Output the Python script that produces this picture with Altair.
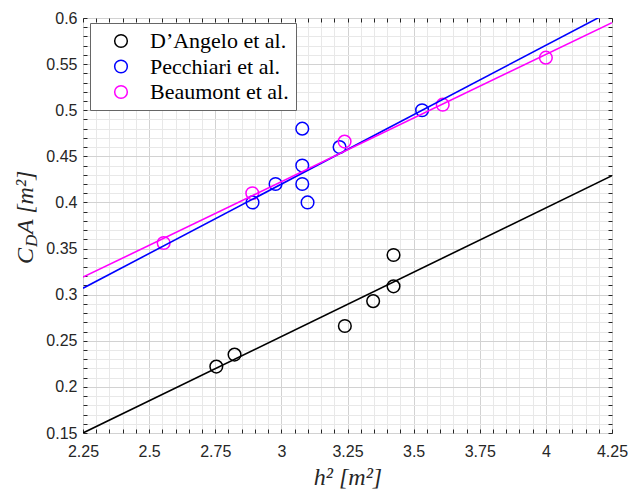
import altair as alt
import pandas as pd

series_names = ["D’Angelo et al.", "Pecchiari et al.", "Beaumont et al."]
series_colors = ["#000000", "#0000ff", "#ff00ff"]

dangelo_x = [2.754, 2.823, 3.240, 3.347, 3.424, 3.424]
dangelo_y = [0.222, 0.235, 0.266, 0.293, 0.309, 0.343]
pecchiari_x = [2.891, 2.978, 3.079, 3.079, 3.079, 3.099, 3.220, 3.532]
pecchiari_y = [0.400, 0.420, 0.480, 0.440, 0.420, 0.400, 0.460, 0.500]
beaumont_x = [2.555, 2.890, 3.239, 3.610, 4.000]
beaumont_y = [0.356, 0.410, 0.466, 0.506, 0.557]

fit_x = [2.25, 4.25]
dangelo_fit = [0.150, 0.429]
pecchiari_fit = [0.307, 0.608]
beaumont_fit = [0.319, 0.595]

x_ticks = [round(2.25 + 0.05 * i, 2) for i in range(41)]
y_ticks = [round(0.15 + 0.01 * i, 2) for i in range(46)]

pts = pd.concat([
    pd.DataFrame({"x": dangelo_x, "y": dangelo_y, "series": series_names[0]}),
    pd.DataFrame({"x": pecchiari_x, "y": pecchiari_y, "series": series_names[1]}),
    pd.DataFrame({"x": beaumont_x, "y": beaumont_y, "series": series_names[2]}),
], ignore_index=True)

fits = pd.concat([
    pd.DataFrame({"x": fit_x, "y": dangelo_fit, "series": series_names[0]}),
    pd.DataFrame({"x": fit_x, "y": pecchiari_fit, "series": series_names[1]}),
    pd.DataFrame({"x": fit_x, "y": beaumont_fit, "series": series_names[2]}),
], ignore_index=True)

TICK = 4
AX = "#262626"
xscale = alt.Scale(domain=[2.25, 4.25], nice=False, zero=False)
yscale = alt.Scale(domain=[0.15, 0.6], nice=False, zero=False)

x_major = "abs(datum.value*4 - round(datum.value*4)) < 0.001"
y_major = "abs(datum.value*20 - round(datum.value*20)) < 0.001"

x_axis = alt.Axis(
    values=x_ticks, orient="bottom", grid=True,
    gridColor={"condition": {"test": x_major, "value": "#d2d2d2"}, "value": "#e8e8e8"},
    gridWidth=1, domain=False, ticks=True, tickSize=TICK, tickColor=AX, tickWidth=1,
    offset=-TICK, labelExpr=f"{x_major} ? format(datum.value, '~g') : ''",
    labelFont="Liberation Sans", labelFontSize=16, labelColor=AX, labelPadding=10,
    labelOverlap=False, labelFlush=False,
    title="h² [m²]", titleFont="Liberation Serif", titleFontStyle="italic",
    titleFontWeight="normal", titleFontSize=24, titleColor=AX,
    titleBaseline="alphabetic", titleY=55,
)
y_axis = alt.Axis(
    values=y_ticks, orient="left", grid=True,
    gridColor={"condition": {"test": y_major, "value": "#d2d2d2"}, "value": "#e8e8e8"},
    gridWidth=1, domain=False, ticks=True, tickSize=TICK, tickColor=AX, tickWidth=1,
    offset=-TICK, labelExpr=f"{y_major} ? format(datum.value, '~g') : ''",
    labelFont="Liberation Sans", labelFontSize=16, labelColor=AX, labelPadding=6,
    labelOverlap=False, labelFlush=False, title=None,
)
x_axis_top = alt.Axis(values=x_ticks, orient="top", grid=False, domain=False, labels=False,
                      tickSize=TICK, tickColor=AX, tickWidth=1, offset=-TICK, title=None)
y_axis_right = alt.Axis(values=y_ticks, orient="right", grid=False, domain=False, labels=False,
                        tickSize=TICK, tickColor=AX, tickWidth=1, offset=-TICK, title=None)

color_scale = alt.Scale(domain=series_names, range=series_colors)

points = alt.Chart(pts).mark_point(shape="circle", filled=False, size=160, strokeWidth=1.5, opacity=1).encode(
    x=alt.X("x:Q", scale=xscale, axis=x_axis),
    y=alt.Y("y:Q", scale=yscale, axis=y_axis),
    color=alt.Color("series:N", scale=color_scale, sort=series_names, legend=alt.Legend(
        orient="none", legendX=7, legendY=5, title=None, direction="vertical",
        fillColor="white", strokeColor="#666666", padding=7, symbolOffset=13,
        labelOffset=18, rowPadding=3.5, symbolType="circle", symbolSize=160,
        symbolStrokeWidth=1.5, labelFont="Liberation Serif", labelFontSize=22,
        labelColor="#000000", labelLimit=400,
    )),
)

lines = alt.Chart(fits).mark_line(clip=True, strokeWidth=1.6).encode(
    x=alt.X("x:Q", scale=xscale, axis=x_axis_top),
    y=alt.Y("y:Q", scale=yscale, axis=y_axis_right),
    color=alt.Color("series:N", scale=color_scale, sort=series_names, legend=None),
    detail="series:N",
)

def ytext(txt, px, py, size):
    return alt.Chart(pd.DataFrame({"t": [txt]})).mark_text(
        angle=270, align="left", baseline="alphabetic", font="Liberation Serif",
        fontStyle="italic", fontSize=size, color=AX,
    ).encode(text="t:N", x=alt.value(px), y=alt.value(py))

ytitle = ytext("C", -50, 246, 24) + ytext("D", -46, 229, 17) + ytext("A [m²]", -50, 216, 24)

chart = alt.layer(points, lines, ytitle).resolve_axis(x="independent", y="independent").properties(
    width=529, height=415,
    padding={"left": 83, "top": 18, "right": 20, "bottom": 57},
    autosize=alt.AutoSizeParams(type="none"),
).configure_view(stroke="#404040", strokeWidth=1)

chart.save("out.html", embed_options={"renderer": "svg", "actions": False})
